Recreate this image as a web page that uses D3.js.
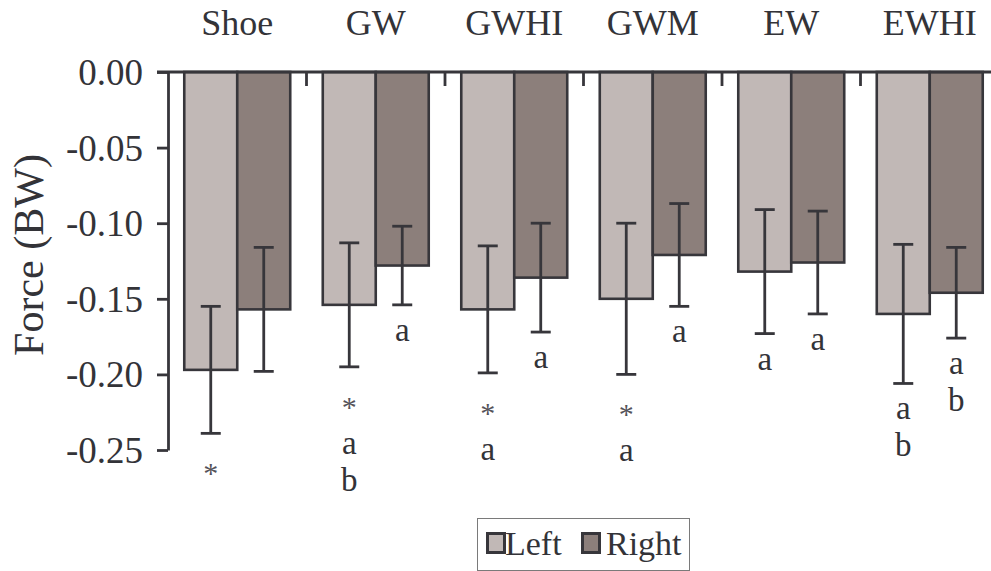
<!DOCTYPE html>
<html>
<head>
<meta charset="utf-8">
<script src="https://cdn.jsdelivr.net/npm/d3@7/dist/d3.min.js"></script>
</head>
<body style="margin:0">
<svg id="chart" width="991" height="571" font-family="Times New Roman"></svg>
<script>
// Peak force (in body weights) per footwear condition, left and right limb
const conditions = ["Shoe", "GW", "GWHI", "GWM", "EW", "EWHI"];
const sides = ["Left", "Right"];
const leftMean  = [-0.197, -0.154, -0.157, -0.150, -0.132, -0.160];
const leftSD    = [0.042, 0.041, 0.042, 0.050, 0.041, 0.046];
const rightMean = [-0.157, -0.128, -0.136, -0.121, -0.126, -0.146];
const rightSD   = [0.041, 0.026, 0.036, 0.034, 0.034, 0.030];
// significance markers printed under each bar (one entry per line)
const leftMarks  = [["*"], ["*", "a", "b"], ["*", "a"], ["*", "a"], ["a"], ["a", "b"]];
const rightMarks = [[], ["a"], ["a"], ["a"], ["a"], ["a", "b"]];
const yTicks = [0, -0.05, -0.10, -0.15, -0.20, -0.25];

const fills = { Left: "#c1b8b6", Right: "#8c7f7b" };
const ink = "#37363b";
const textInk = "#333338";

const svg = d3.select("#chart");

const x = d3.scaleBand().domain(conditions).range([168, 999]).paddingInner(0).paddingOuter(0);
const xs = d3.scaleBand().domain(sides).range([0, x.bandwidth()]).paddingInner(0).paddingOuter(0.307);
const y = d3.scaleLinear().domain([-0.25, 0]).range([450, 72]);

function serifText(parent, str, size) {
  return parent.append("text")
    .style("font-family", "Times New Roman")
    .style("font-size", size + "px")
    .attr("fill", textInk)
    .text(str);
}

const rows = [];
conditions.forEach((c, i) => {
  rows.push({ c, side: "Left",  mean: leftMean[i],  sd: leftSD[i],  marks: leftMarks[i] });
  rows.push({ c, side: "Right", mean: rightMean[i], sd: rightSD[i], marks: rightMarks[i] });
});

// bars hang down from zero
svg.append("g").selectAll("rect").data(rows).join("rect")
  .attr("x", d => x(d.c) + xs(d.side))
  .attr("y", y(0))
  .attr("width", xs.bandwidth())
  .attr("height", d => y(d.mean) - y(0))
  .attr("fill", d => fills[d.side])
  .attr("stroke", ink)
  .attr("stroke-width", 2.6);

// error bars (±SD)
const eb = svg.append("g").attr("stroke", ink).attr("stroke-width", 2.8);
rows.forEach(d => {
  const cx = x(d.c) + xs(d.side) + xs.bandwidth() / 2;
  const y1 = y(d.mean + d.sd), y2 = y(d.mean - d.sd);
  eb.append("line").attr("x1", cx).attr("x2", cx).attr("y1", y1).attr("y2", y2);
  eb.append("line").attr("x1", cx - 10).attr("x2", cx + 10).attr("y1", y1).attr("y2", y1);
  eb.append("line").attr("x1", cx - 10).attr("x2", cx + 10).attr("y1", y2).attr("y2", y2);
});

// significance letters below the error bars
rows.forEach(d => {
  const cx = x(d.c) + xs(d.side) + xs.bandwidth() / 2;
  let yy = y(d.mean - d.sd);
  d.marks.forEach((m, k) => {
    yy += (k === 0 ? (m === "*" ? 50 : 36) : 37);
    const t = serifText(svg, m, m === "*" ? 30 : 33)
      .attr("x", cx).attr("y", yy)
      .attr("text-anchor", "middle");
    if (m === "*") t.attr("fill", "#55535a");
  });
});

// y axis: line and ticks from d3, labels drawn alongside in serif
const yAxis = d3.axisLeft(y).tickValues(yTicks).tickFormat("").tickSize(11).tickSizeOuter(0);
const gy = svg.append("g").attr("transform", "translate(168,0)").call(yAxis);
gy.select(".domain").attr("stroke", ink).attr("stroke-width", 2.8);
gy.selectAll(".tick line").attr("stroke", ink).attr("stroke-width", 2.8);
yTicks.forEach(v => {
  serifText(svg, v.toFixed(2), 37)
    .attr("x", 143).attr("y", y(v) + 13)
    .attr("text-anchor", "end");
});

// zero line along the top with ticks between conditions
svg.append("line").attr("x1", 157).attr("x2", 999).attr("y1", y(0)).attr("y2", y(0))
  .attr("stroke", ink).attr("stroke-width", 2.8);
svg.append("g").selectAll("line").data(conditions.slice(1)).join("line")
  .attr("x1", d => x(d)).attr("x2", d => x(d))
  .attr("y1", y(0)).attr("y2", y(0) + 14)
  .attr("stroke", ink).attr("stroke-width", 2.8);

// condition names above the plot
conditions.forEach(c => {
  serifText(svg, c, 36)
    .attr("x", x(c) + x.bandwidth() / 2).attr("y", 35)
    .attr("text-anchor", "middle");
});

// axis title
serifText(svg, "Force (BW)", 42)
  .attr("transform", "translate(43,255) rotate(-90)")
  .attr("text-anchor", "middle");

// legend
const lg = svg.append("g");
lg.append("rect").attr("x", 477.5).attr("y", 518.5).attr("width", 212).attr("height", 52)
  .attr("fill", "none").attr("stroke", "#7a7a7a").attr("stroke-width", 1);
const legendItems = [{ k: "Left", sx: 486, tx: 505 }, { k: "Right", sx: 581, tx: 606 }];
legendItems.forEach(it => {
  lg.append("rect").attr("x", it.sx + 1.5).attr("y", 533.5).attr("width", 17).attr("height", 19)
    .attr("fill", fills[it.k]).attr("stroke", ink).attr("stroke-width", 3);
  serifText(lg, it.k, 34).attr("x", it.tx).attr("y", 555);
});
</script>
</body>
</html>
